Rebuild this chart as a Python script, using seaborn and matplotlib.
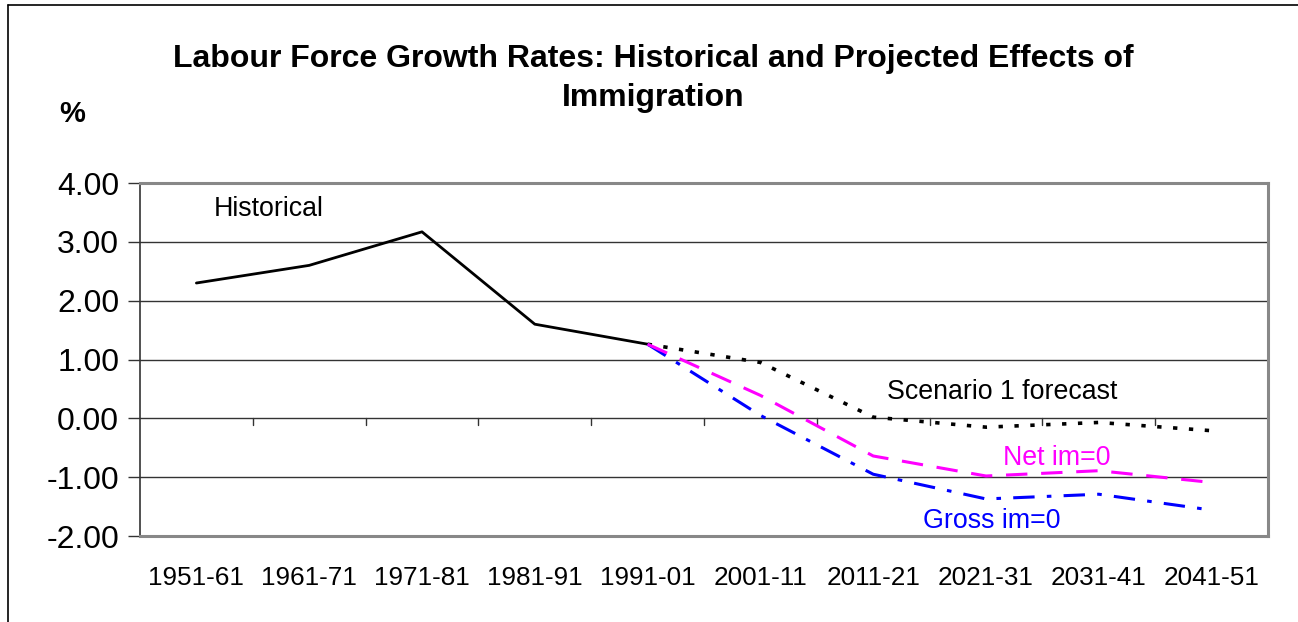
import matplotlib
matplotlib.use("Agg")
import matplotlib.pyplot as plt
import seaborn as sns
import pandas as pd
import numpy as np
from matplotlib.lines import Line2D

sns.set_theme(style="white")
plt.rcParams['font.family'] = ['Liberation Sans', 'DejaVu Sans']
plt.rcParams['text.color'] = 'black'
plt.rcParams['ytick.color'] = 'black'
plt.rcParams['xtick.color'] = 'black'

periods = ["1951-61", "1961-71", "1971-81", "1981-91", "1991-01",
           "2001-11", "2011-21", "2021-31", "2031-41", "2041-51"]
historical = [2.30, 2.60, 3.17, 1.60, 1.26, None, None, None, None, None]
scenario1 = [None, None, None, None, 1.26, 0.95, 0.02, -0.15, -0.07, -0.21]
net_im0 = [None, None, None, None, 1.26, 0.39, -0.64, -0.98, -0.89, -1.09]
gross_im0 = [None, None, None, None, 1.26, 0.05, -0.95, -1.37, -1.29, -1.56]
yticks = [4.0, 3.0, 2.0, 1.0, 0.0, -1.0, -2.0]

W, H = 1298, 622
fig = plt.figure(figsize=(W / 100, H / 100), dpi=100)
fig.patch.set_facecolor("white")

# outer chart border (left and top)
fig.add_artist(Line2D([8 / W, 8 / W], [0, 1 - 5 / H], color="black", lw=1.2))
fig.add_artist(Line2D([8 / W, 1], [1 - 5 / H, 1 - 5 / H], color="black", lw=1.2))

ax = fig.add_axes([140 / W, 1 - 536 / H, 1128 / W, 353 / H])

df = pd.DataFrame({"x": np.arange(len(periods)),
                   "Historical": historical, "Scenario": scenario1,
                   "Net": net_im0, "Gross": gross_im0})

sns.lineplot(data=df, x="x", y="Historical", ax=ax, color="black", lw=2.0)
sns.lineplot(data=df, x="x", y="Scenario", ax=ax, color="black", lw=2.6,
             linestyle=(0, (1.2, 3.2)))
sns.lineplot(data=df, x="x", y="Gross", ax=ax, color="#0000FF", lw=2.2,
             linestyle=(0, (7, 4, 1.5, 4)))
sns.lineplot(data=df, x="x", y="Net", ax=ax, color="#FF00FF", lw=2.2,
             linestyle=(0, (7, 4.5)))

ax.set_xlim(-0.5, len(periods) - 0.5)
ax.set_ylim(-2, 4)
ax.set_yticks(yticks)
ax.set_yticklabels([f"{v:.2f}" for v in yticks], fontsize=23)
ax.set_xticks([])
ax.set_xlabel("")
ax.set_ylabel("")
for v in yticks:
    ax.axhline(v, color="#333333", lw=1.0, zorder=0)

# category tick marks on the zero line
for b in np.arange(0.5, len(periods) - 0.5, 1.0):
    ax.plot([b, b], [0, -0.11], color="#333333", lw=1.0, zorder=1)

# category labels below plot area
for i, p in enumerate(periods):
    ax.text(i, -2.72, p, ha="center", va="center", fontsize=18.8)

ax.tick_params(axis="y", which="both", left=True, length=9, width=1.0,
               color="#333333", pad=6)
for side in ["top", "right", "bottom"]:
    ax.spines[side].set_color("#888888")
    ax.spines[side].set_linewidth(2.2)
ax.spines["left"].set_color("#333333")
ax.spines["left"].set_linewidth(1.2)

# annotations
ax.text(0.15, 3.55, "Historical", fontsize=19.3, ha="left", va="center")
ax.text(7.14, 0.44, "Scenario 1 forecast", fontsize=19.3, ha="center", va="center")
ax.text(7.63, -0.68, "Net im=0", fontsize=19.3, ha="center", va="center", color="#FF00FF")
ax.text(7.05, -1.75, "Gross im=0", fontsize=19.3, ha="center", va="center", color="#0000FF")

fig.text(653 / W, 1 - 59 / H, "Labour Force Growth Rates: Historical and Projected Effects of",
         ha="center", va="center", fontsize=23, fontweight="bold")
fig.text(653 / W, 1 - 98 / H, "Immigration", ha="center", va="center",
         fontsize=23, fontweight="bold")
fig.text(72 / W, 1 - 114 / H, "%", ha="center", va="center", fontsize=21,
         fontweight="bold")

fig.savefig("out.png", dpi=100, facecolor="white")
